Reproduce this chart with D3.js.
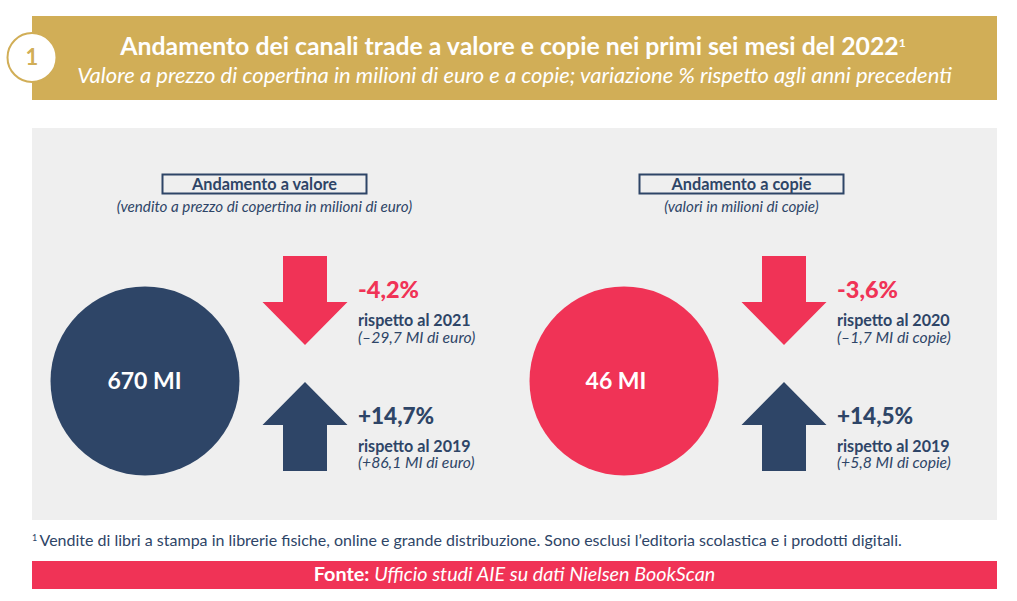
<!DOCTYPE html>
<html>
<head>
<meta charset="utf-8">
<script src="https://cdn.jsdelivr.net/npm/d3@7"></script>
<style>
  html, body { margin: 0; padding: 0; background: #fff; }
  svg { display: block; }
  text { font-family: Lato, "Open Sans", sans-serif; }
</style>
</head>
<body>
<div id="chart"></div>
<script>
var titleText = 'Andamento dei canali trade a valore e copie nei primi sei mesi del 2022';
var subtitleText = 'Valore a prezzo di copertina in milioni di euro e a copie; variazione % rispetto agli anni precedenti';
var footnoteText = 'Vendite di libri a stampa in librerie fisiche, online e grande distribuzione. Sono esclusi l’editoria scolastica e i prodotti digitali.';

var panels = ['valore', 'copie'];
var panelTitles = ['Andamento a valore', 'Andamento a copie'];
var panelNotes = ['(vendito a prezzo di copertina in milioni di euro)', '(valori in milioni di copie)'];
var totals = ['670 MI', '46 MI'];
var downValues = ['-4,2%', '-3,6%'];
var downYears = ['rispetto al 2021', 'rispetto al 2020'];
var downDeltas = ['(–29,7 MI di euro)', '(–1,7 MI di copie)'];
var upValues = ['+14,7%', '+14,5%'];
var upYears = ['rispetto al 2019', 'rispetto al 2019'];
var upDeltas = ['(+86,1 MI di euro)', '(+5,8 MI di copie)'];

var navy = '#2e4567', red = '#f03356', gold = '#d1ae57', grey = '#efefef';

var width = 1017, height = 601;
var svg = d3.select('#chart').append('svg').attr('width', width).attr('height', height);

// panels sit 479px apart, the band scale gives each one its left edge
var panelX = d3.scaleBand().domain(panels).range([0, 958]);

function label(parent, x, y, str, size, weight, color, anchor, italic) {
    return parent.append('text')
        .attr('x', x).attr('y', y)
        .attr('font-size', size)
        .attr('font-weight', weight)
        .attr('font-style', italic ? 'italic' : 'normal')
        .attr('fill', color)
        .attr('text-anchor', anchor || 'start')
        .text(str);
}

// header
svg.append('rect').attr('x', 32).attr('y', 16).attr('width', 965).attr('height', 84).attr('fill', gold);
svg.append('circle').attr('cx', 32).attr('cy', 57.5).attr('r', 24.5).attr('fill', '#fff').attr('stroke', gold).attr('stroke-width', 2);
label(svg, 32, 65, '1', 22, 700, gold, 'middle');

var title = label(svg, 513, 55, titleText, 24.8, 700, '#fff', 'middle');
title.append('tspan').attr('font-size', 12).attr('dy', -8).text('1');
label(svg, 514.5, 83, subtitleText, 22, 400, '#fff', 'middle', true);

// grey background
svg.append('rect').attr('x', 32).attr('y', 128).attr('width', 965).attr('height', 392).attr('fill', grey);

function arrowPath(cx, top, bottom, up) {
    var p = d3.path();
    var tip = up ? top : bottom, base = up ? bottom : top;
    var neck = up ? top + 43 : bottom - 43;
    p.moveTo(cx, tip);
    p.lineTo(cx + 42.5, neck);
    p.lineTo(cx + 22, neck);
    p.lineTo(cx + 22, base);
    p.lineTo(cx - 22, base);
    p.lineTo(cx - 22, neck);
    p.lineTo(cx - 42.5, neck);
    p.closePath();
    return p.toString();
}

panels.forEach(function(key, i) {
    var g = svg.append('g').attr('transform', 'translate(' + panelX(key) + ',0)');
    var headX = i ? 262.5 : 264.5;   // heading of the right panel is 2px further in

    g.append('rect').attr('x', headX - 102).attr('y', 174.5).attr('width', 204).attr('height', 19)
        .attr('fill', 'none').attr('stroke', navy).attr('stroke-width', 2);
    label(g, headX, 189.5, panelTitles[i], 16.3, 700, navy, 'middle');
    label(g, headX, 212, panelNotes[i], 15.2, 400, navy, 'middle', true);

    g.append('circle').attr('cx', 145).attr('cy', 381).attr('r', 94.5).attr('fill', i ? red : navy);
    label(g, i ? 137 : 144.5, 389, totals[i], 23, 700, '#fff', 'middle');

    g.append('path').attr('d', arrowPath(305, 256, 345, false)).attr('fill', red);
    g.append('path').attr('d', arrowPath(305, 382, 471, true)).attr('fill', navy);

    label(g, 358, 298, downValues[i], 23.5, 900, red);
    label(g, 358, 326, downYears[i], 16.1, 700, navy);
    label(g, 358, 343, downDeltas[i], 15.7, 400, navy, 'start', true);

    label(g, 358, 424, upValues[i], 22.5, 900, navy);
    label(g, 358, 452, upYears[i], 16.1, 700, navy);
    label(g, 358, 468, upDeltas[i], 15.7, 400, navy, 'start', true);
});

// footnote and source
var note = label(svg, 32, 546, '', 16, 400, navy);
note.append('tspan').attr('font-size', 9).attr('dy', -5).text('1 ');
note.append('tspan').attr('dy', 5).text(footnoteText);

svg.append('rect').attr('x', 32).attr('y', 561).attr('width', 965).attr('height', 28).attr('fill', red);
var source = label(svg, 514.5, 581, '', 19.8, 400, '#fff', 'middle');
source.append('tspan').attr('font-weight', 700).text('Fonte: ');
source.append('tspan').attr('font-style', 'italic').text('Ufficio studi AIE su dati Nielsen BookScan');
</script>
</body>
</html>
